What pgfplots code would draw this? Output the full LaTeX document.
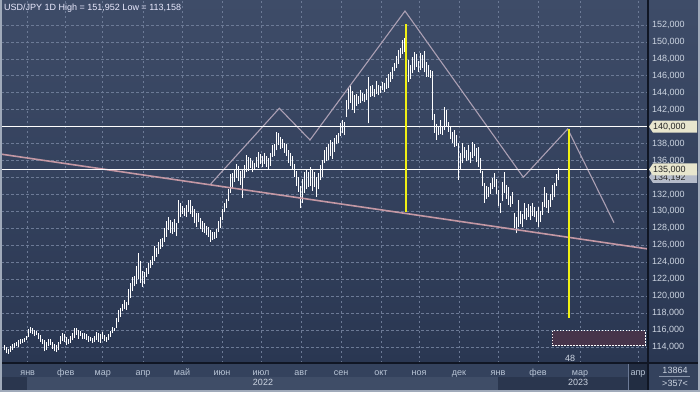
\documentclass[border=0pt]{standalone}
\usepackage{fontspec}
\setmainfont{Liberation Sans}
\usepackage{pgfplots}
\pgfplotsset{compat=1.18}
\usepackage{pgfplotstable}
\definecolor{bgtop}{RGB}{62,76,104}
\definecolor{bgbot}{RGB}{42,55,82}
\definecolor{gridc}{RGB}{108,122,150}
\definecolor{txt}{RGB}{205,213,226}
\definecolor{mtxt}{RGB}{185,197,214}
\definecolor{neck}{RGB}{196,152,164}
\definecolor{hs}{RGB}{172,160,180}
\definecolor{yel}{RGB}{240,240,20}
\definecolor{boxfill}{RGB}{70,52,74}
\definecolor{cream}{RGB}{232,230,206}
\definecolor{curbox}{RGB}{182,188,202}
\definecolor{sep}{RGB}{16,22,36}
\definecolor{framec}{RGB}{160,170,186}
\definecolor{band}{RGB}{52,66,93}
\definecolor{bandlight}{RGB}{63,77,103}
\definecolor{banddark}{RGB}{42,54,78}
\definecolor{aprbox}{RGB}{34,45,66}

\pgfplotstableread{
x l h
4 113.6 114.2
6 113.3 114.0
8 113.2 113.8
10 113.4 114.1
12 113.7 114.3
14 113.9 114.5
16 114.1 114.6
18 114.0 114.8
20 114.3 114.9
22 114.5 115.0
24 114.6 115.1
26 114.8 115.3
28 115.2 116.1
30 115.6 116.4
32 115.5 116.2
34 115.3 116.0
36 115.4 115.9
38 114.9 115.7
40 114.6 115.4
42 114.3 115.0
44 113.5 114.8
46 113.7 114.6
48 114.1 115.0
50 114.2 114.9
52 113.8 114.6
54 113.5 114.4
56 113.4 114.2
58 113.6 114.6
60 114.3 115.3
62 114.7 115.7
64 114.6 115.5
66 114.2 115.2
68 114.4 115.0
70 114.5 115.3
72 114.8 115.6
74 115.1 116.2
76 115.4 116.3
78 115.0 116.0
80 115.3 115.9
82 114.9 115.6
84 115.0 115.7
86 114.8 115.5
88 114.6 115.3
90 114.7 115.2
92 114.5 115.1
94 114.6 115.3
96 114.8 115.8
98 114.6 115.7
100 114.5 115.5
102 114.9 115.8
104 114.7 115.4
106 114.6 115.2
108 114.8 115.5
110 115.2 115.9
112 115.6 116.4
114 115.9 116.3
116 116.2 117.4
118 116.9 118.4
120 117.6 118.6
122 118.2 119.1
124 118.5 119.5
126 118.4 119.3
128 118.9 120.8
130 119.8 121.6
132 120.6 122.3
134 121.2 122.4
136 121.4 123.6
138 122.0 125.1
140 121.6 124.2
142 121.1 123.0
144 121.4 122.8
146 122.3 123.3
148 122.6 123.9
150 123.3 124.3
152 123.7 124.7
154 124.2 125.9
156 124.6 125.7
158 125.0 126.4
160 125.6 126.7
162 125.8 126.9
164 126.4 128.1
166 127.0 128.9
168 127.8 129.4
170 127.4 129.0
172 127.3 128.7
174 127.6 129.1
176 127.1 128.6
178 128.6 131.3
180 129.4 131.0
182 129.7 130.7
184 129.5 130.4
186 129.3 130.8
188 129.9 131.3
190 129.7 131.4
192 129.4 130.7
194 128.6 130.3
196 128.2 129.8
198 128.7 129.8
200 127.9 129.2
202 127.6 128.9
204 127.4 128.6
206 127.2 128.3
208 127.0 128.2
210 126.4 127.8
212 126.6 127.6
214 126.8 127.6
216 126.9 127.9
218 127.6 128.9
220 128.0 129.3
222 129.0 130.3
224 129.9 131.0
226 130.4 131.5
228 131.2 132.6
230 132.2 134.4
232 132.8 134.5
234 133.5 134.9
236 133.9 135.6
238 133.6 135.4
240 133.1 134.8
242 131.6 135.0
244 134.0 135.5
246 134.6 136.7
248 134.8 136.4
250 135.1 136.3
252 134.6 135.9
254 134.9 135.7
256 135.2 136.4
258 135.1 137.0
260 135.6 136.8
262 135.2 136.6
264 135.6 136.9
266 135.3 136.5
268 135.0 136.3
270 135.4 136.9
272 136.4 137.8
274 136.6 137.9
276 137.2 139.4
278 137.8 139.2
280 137.4 138.8
282 137.5 138.6
284 136.9 138.1
286 136.6 138.0
288 135.7 137.3
290 135.4 136.9
292 135.0 136.5
294 134.1 135.6
296 133.0 134.8
298 132.3 134.1
300 130.4 133.0
302 131.0 133.8
304 132.2 134.6
306 132.6 134.9
308 132.9 134.7
310 133.0 135.2
312 132.4 134.9
314 132.9 134.6
316 131.7 134.1
318 132.6 134.5
320 133.7 135.5
322 134.1 136.1
324 135.7 137.3
326 135.9 137.6
328 136.1 137.9
330 136.6 138.4
332 136.2 138.2
334 137.0 138.7
336 137.9 139.0
338 138.1 139.3
340 138.9 140.4
342 139.2 140.8
344 139.0 140.6
346 141.1 143.2
348 142.1 144.7
350 142.8 144.9
352 142.0 144.2
354 141.6 143.7
356 142.5 143.8
358 142.7 143.6
360 142.8 144.3
362 143.0 144.0
364 142.9 143.8
366 143.1 144.4
368 140.4 145.9
370 143.5 144.8
372 143.6 144.9
374 143.5 144.5
376 143.9 145.4
378 143.7 144.9
380 144.0 144.8
382 144.3 145.3
384 144.1 145.1
386 144.5 145.8
388 144.6 146.2
390 145.3 146.4
392 145.6 147.0
394 146.6 147.5
396 146.9 148.3
398 147.4 149.0
400 148.1 149.3
402 148.6 150.2
404 148.8 150.5
406 146.2 151.95
408 145.3 147.9
410 145.6 147.3
412 146.3 148.2
414 146.7 148.8
416 147.1 148.6
418 146.5 147.8
420 146.7 148.7
422 146.9 148.5
424 146.4 148.9
426 145.9 147.6
428 145.9 147.3
430 145.8 146.7
432 140.8 146.6
434 139.3 141.5
436 138.4 140.3
438 139.0 140.0
440 139.1 140.8
442 139.0 140.1
444 139.6 142.3
446 140.0 142.0
448 139.4 140.6
450 138.5 140.0
452 138.1 139.4
454 137.6 139.6
456 137.7 139.0
458 133.7 138.1
460 134.9 136.9
462 135.7 138.1
464 136.3 137.6
466 135.9 137.3
468 136.1 137.8
470 135.7 137.0
472 136.3 138.2
474 136.5 138.0
476 135.8 137.5
478 135.2 137.6
480 134.5 136.3
482 133.0 134.8
484 131.0 133.4
486 131.5 133.0
488 131.7 132.9
490 132.0 133.4
492 132.6 134.0
494 132.9 134.5
496 132.1 133.8
498 130.6 132.5
500 129.8 131.0
502 131.2 133.5
504 132.2 134.7
506 131.5 133.1
508 130.8 132.9
510 130.5 131.8
512 130.9 132.3
514 128.0 129.8
516 127.4 129.4
518 128.2 131.3
520 128.5 130.1
522 128.2 129.7
524 129.1 131.0
526 129.0 130.4
528 129.3 130.9
530 129.0 130.6
532 129.5 131.0
534 129.3 130.5
536 128.8 130.1
538 128.2 130.5
540 128.7 130.0
542 129.6 131.1
544 130.5 132.9
546 130.4 132.2
548 129.8 131.3
550 130.5 132.0
552 131.3 133.1
554 131.7 133.4
556 133.0 134.4
558 133.7 135.1
}\bars

\newcommand{\f}{\fontsize{9}{10}\selectfont}

\begin{document}
\begin{tikzpicture}[x=1pt,y=1pt]
\useasboundingbox (0,0) rectangle (700,392);
% backgrounds
\shade[top color=bgtop, bottom color=bgbot] (0,29) rectangle (700,392);
\fill[band] (0,0) rectangle (700,29);
\fill[banddark] (0,0) rectangle (648,15);
\fill[bandlight] (27,2) rectangle (498,15);
\fill[aprbox] (628,1) rectangle (647,28);
\draw[gridc, line width=0.8pt] (628.5,1) -- (628.5,28);

\begin{axis}[
  at={(1pt,29pt)}, anchor=south west,
  scale only axis, width=647pt, height=362pt,
  xmin=1, xmax=648, ymin=112.1135, ymax=154.832,
  axis line style={draw=none},
  major tick length=0pt,
  xtick={27.7,65.7,102.7,143,182,222,261,301,341,381,419,459,498,538,580,638},
  xticklabels={янв,фев,мар,апр,май,июн,июл,авг,сен,окт,ноя,дек,янв,фев,мар,апр},
  xticklabel style={anchor=base, yshift=-12pt, font=\f, text=mtxt},
  ytick={114,116,...,152},
  yticklabel pos=right,
  yticklabel style={anchor=west, inner sep=0pt, xshift=4pt, font=\f, text=txt},
  scaled y ticks=false,
  /pgf/number format/fixed,
  /pgf/number format/fixed zerofill,
  /pgf/number format/precision=3,
  /pgf/number format/use comma,
  /pgf/number format/1000 sep={},
  /pgf/number format/assume math mode=true,
  grid=major,
  major grid style={gridc, line width=0.7pt, dash pattern=on 2.5pt off 2.5pt},
  clip=true,
]
\addplot[draw=none, mark=none, forget plot,
  error bars/.cd, y dir=plus, y explicit, error mark=none,
  error bar style={draw=white, line width=0.85pt}]
  table[x=x, y=l, y error plus expr={\thisrow{h}-\thisrow{l}}] {\bars};
% neckline and pattern
\addplot[neck, line width=1.6pt] coordinates {(0,136.78) (648,125.57)};
\addplot[hs, line width=1.1pt] coordinates {(210.7,133.24) (279.3,142.17) (310,138.43) (405,153.65) (523.3,134.03) (567.7,139.73) (614,128.67)};
% horizontal levels
\addplot[white, line width=1.1pt] coordinates {(1,140) (648,140)};
\addplot[white, line width=1.1pt] coordinates {(1,135) (648,135)};
% yellow measures
\addplot[yel, line width=2.3pt] coordinates {(406,152.1) (406,129.9)};
\addplot[yel, line width=2.3pt] coordinates {(569,139.7) (569,117.4)};
% target zone
\addplot[draw=white, fill=boxfill, line width=0.7pt, dash pattern=on 1.5pt off 1.5pt] coordinates {(552,114.15) (645,114.15) (645,115.92) (552,115.92)} --cycle;
\node[font=\f, text=txt] at (axis cs:570,112.7) {48};
\end{axis}

% separators
\draw[sep, line width=1.5pt] (648,0) -- (648,392);
\draw[sep, line width=1.5pt] (0,29) -- (700,29);

% right-axis boxes
\fill[curbox] (649,215.1) -- (653,221.1) -- (697,221.1) -- (697,209.1) -- (653,209.1) -- cycle;
\node[anchor=west, inner sep=0pt, font=\f, text=black!85] at (653,214.1) {134,192};
\fill[cream] (649,222.6) -- (653,228.6) -- (697,228.6) -- (697,216.6) -- (653,216.6) -- cycle;
\node[anchor=west, inner sep=0pt, font=\f, text=black!85] at (653,222.1) {135,000};
\fill[cream] (649,265.3) -- (653,271.3) -- (697,271.3) -- (697,259.3) -- (653,259.3) -- cycle;
\node[anchor=west, inner sep=0pt, font=\f, text=black!85] at (653,264.8) {140,000};

% years
\node[anchor=base, font=\f, text=txt] at (263,6.3) {2022};
\node[anchor=base, font=\f, text=txt] at (578,6.3) {2023};

% bottom-right box
\node[font=\f, text=txt] at (675,22) {13864};
\draw[gridc!80, line width=0.6pt] (659,15.5) -- (690,15.5);
\node[font=\f, text=txt] at (675,8.5) {>357<};

% title
\node[anchor=west, inner sep=0pt, font=\f, text=white!92!blue] at (4,384) {USD/JPY 1D High = 151,952 Low = 113,158};

% outer frame
\draw[framec, line width=2pt] (1,0) -- (1,392);
\draw[framec, line width=2pt] (699,0) -- (699,392);
\draw[framec, line width=2pt] (0,1) -- (700,1);
\end{tikzpicture}
\end{document}
